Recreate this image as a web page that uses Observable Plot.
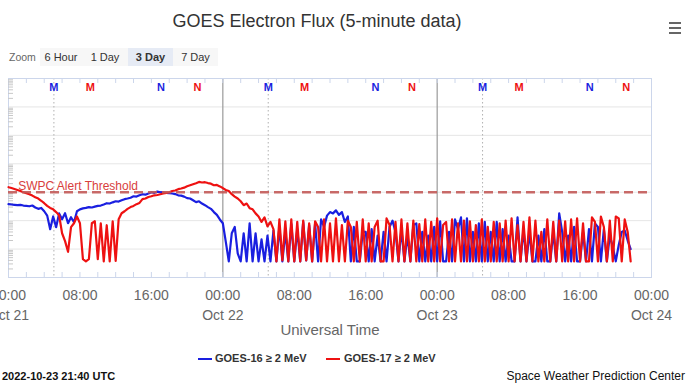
<!DOCTYPE html>
<html><head><meta charset="utf-8">
<script src="https://cdn.jsdelivr.net/npm/d3@7"></script>
<script src="https://cdn.jsdelivr.net/npm/@observablehq/plot@0.6"></script>
<style>
body{margin:0;background:#fff;font-family:"Liberation Sans",Arial,Helvetica,sans-serif;}
#wrap{position:relative;width:690px;height:388px;overflow:hidden;background:#fff;}
#chart{position:absolute;left:0;top:0;}
.abs{position:absolute;white-space:nowrap;}
#title{left:0;width:634px;top:10px;text-align:center;font-size:18px;line-height:22px;color:#333;}
#menu{left:669px;top:22px;width:12px;}
#menu div{height:2px;background:#666;margin-bottom:3px;}
#zoomlbl{left:9px;top:50px;font-size:10.5px;color:#666;line-height:14px;}
.btn{top:48px;height:18px;line-height:18px;text-align:center;font-size:11px;color:#333;background:#f7f7f7;}
.sel{background:#e6ebf5;font-weight:bold;}
#xlabel{left:230px;width:200px;top:321px;text-align:center;font-size:15px;line-height:18px;color:#666;}
.leg{top:351px;font-size:11px;font-weight:bold;line-height:14px;color:#333;}
.sw{position:absolute;top:358px;width:14px;height:2px;}
#stamp{left:2px;top:369px;font-size:11px;font-weight:bold;line-height:14px;color:#111;}
#swpc{right:5px;top:369px;font-size:12px;line-height:14px;color:#111;}
</style></head><body>
<div id="wrap">
  <div id="chart"></div>
  <div class="abs" id="title">GOES Electron Flux (5-minute data)</div>
  <div class="abs" id="menu"><div></div><div></div><div></div></div>
  <div class="abs" id="zoomlbl">Zoom</div>
  <div class="abs btn" style="left:40px;width:42px">6 Hour</div>
  <div class="abs btn" style="left:82px;width:46px">1 Day</div>
  <div class="abs btn sel" style="left:128px;width:45px">3 Day</div>
  <div class="abs btn" style="left:173px;width:45px">7 Day</div>
  <div class="abs" id="xlabel">Universal Time</div>
  <div class="sw" id="sw16" style="left:198px"></div>
  <div class="abs leg" style="left:215px">GOES-16 ≥ 2 MeV</div>
  <div class="sw" id="sw17" style="left:326px"></div>
  <div class="abs leg" style="left:344px">GOES-17 ≥ 2 MeV</div>
  <div class="abs" id="stamp">2022-10-23 21:40 UTC</div>
  <div class="abs" id="swpc">Space Weather Prediction Center</div>
</div>
<script>
// ---- data (pfu, 20-minute samples from 2022-10-21 00:00 UTC) ----
const seriesNames = ["GOES-16 ≥ 2 MeV", "GOES-17 ≥ 2 MeV"];
const seriesColors = ["#1a1fe0", "#ee1111"];
const startTime = "2022-10-21T00:00:00Z";
const stepMinutes = 20;
const goes16 = [
 380,370,360, 350,360,340, 330,320,340, 290,260,280, 214,150,50, 140,59,180,
 112,182,81, 132,88,214, 250,270,280, 300,290,310, 330,340,370, 410,400,440,
 480,470,520, 570,600,640, 720,700,780, 850,820,900, 1000,950,1050, 1000,980,950,
 920,900,860, 780,760,700, 620,600,520, 450,480,400, 350,300,260, 200,160,110,
 81,18,3.7, 36,60,7, 3.7,36,3.7, 81,3.7,36, 3.7,22,3.7, 30,3.7,45,
 3.7,60,3.7, 40,3.7,75, 3.7,50,3.7, 90,4,70, 3.7,80,3.7, 110,60,150,
 200,180,230, 160,200,90, 140,3.7,60, 3.7,3.7,40, 40,3.7,50, 3.7,30,3.7,
 40,3.7,60, 100,40,3.7, 50,3.7,30, 3.7,70,80, 3.7,40,3.7, 30,3.7,60,
 3.7,95,3.7, 3.7,40,3.7, 110,50,130, 3.7,120,3.7, 40,3.7,80, 3.7,90,3.7,
 40,3.7,90, 3.7,50,3.7, 30,3.7,3.7, 130,3.7,50, 3.7,40,3.7, 3.7,30,3.7,
 50,3.7,3.7, 40,3.7,180, 40,3.7,30, 3.7,60,3.7, 3.7,40,3.7, 50,3.7,80,
 60,3.7,50, 3.7,30,12, 3.7,14,40, 45,20,10
];
const goes17 = [
 1500,1400,1300, 1200,1100,1000, 920,850,760, 670,600,500, 410,330,280, 250,200,155,
 36,19,8, 59,81,140, 81,4.4,3.7, 4.4,81,95, 4.4,81,3.7, 69,3.7,95,
 3.8,112,182, 214,260,300, 330,380,420, 570,600,680, 720,780,800, 850,900,950,
 1000,1100,1150, 1280,1350,1450, 1620,1750,1900, 2070,2300,2200, 2250,2100,2000, 1760,1800,1600,
 1400,1200,1100, 850,700,600, 480,350,400, 275,250,180, 140,90,130, 63,90,50,
 3.7,112,4, 95,3.7,112, 3.7,90,3.7, 100,4,80, 3.7,95,60, 3.7,110,3.7,
 80,3.7,120, 3.7,70,3.7, 100,60,3.7, 90,3.7,110, 3.7,80,3.7, 60,100,3.7,
 3.7,120,70, 3.7,90,3.7, 110,3.7,80, 3.7,100,3.7, 75,3.7,110, 3.7,90,3.7,
 120,3.7,70, 90,3.7,110, 3.7,80,3.7, 100,3.7,95, 3.7,70,3.7, 110,3.7,60,
 3.7,90,3.7, 80,3.7,100, 3.7,120,3.7, 70,3.7,90, 3.7,130,3.7, 100,3.7,40,
 3.7,112,3.7, 90,3.7,100, 3.7,95,3.7, 110,3.7,120, 3.7,80,3.7, 3.7,130,90,
 3.7,140,60, 3.7,100,3.7, 140,120,3.7, 110,40,3.7
];
const alertThreshold = 1000;
const alertLabel = "SWPC Alert Threshold";
// local midnight (M) / noon (N) markers, UTC
const g16Midnight = ["2022-10-21T05:05Z","2022-10-22T05:05Z","2022-10-23T05:05Z"];
const g16Noon     = ["2022-10-21T17:05Z","2022-10-22T17:05Z","2022-10-23T17:05Z"];
const g17Midnight = ["2022-10-21T09:10Z","2022-10-22T09:10Z","2022-10-23T09:10Z"];
const g17Noon     = ["2022-10-21T21:10Z","2022-10-22T21:10Z","2022-10-23T21:10Z"];
const dayBoundaries = ["2022-10-22T00:00Z","2022-10-23T00:00Z"];
const xDomain = ["2022-10-21T00:00Z","2022-10-24T00:00Z"];
const yDomain = [1, 1e7];

// ---- build ----
const t0 = new Date(startTime).getTime();
const toRows = (arr, s) => arr.map((v, i) => ({t: new Date(t0 + i * stepMinutes * 60000), v, s}));
const rows16 = toRows(goes16, seriesNames[0]);
const rows17 = toRows(goes17, seriesNames[1]);
const D = s => new Date(s);
const x0 = D(xDomain[0]), x1 = D(xDomain[1]);
const decades = d3.range(1, 7).map(k => Math.pow(10, k));
const minorY = [];
for (let k = 0; k < 7; k++) for (let m = 2; m <= 9; m++) minorY.push(m * Math.pow(10, k));
const ticks2h = d3.utcHour.every(2).range(x0, new Date(+x1 + 1));
const markers = [
  ...g16Midnight.map(d => ({t: D(d), l: "M", c: seriesColors[0]})),
  ...g16Noon.map(d => ({t: D(d), l: "N", c: seriesColors[0]})),
  ...g17Midnight.map(d => ({t: D(d), l: "M", c: seriesColors[1]})),
  ...g17Noon.map(d => ({t: D(d), l: "N", c: seriesColors[1]}))
];
const fmt = d => {
  const hh = d3.utcFormat("%H:%M")(d);
  return d.getUTCHours() === 0 ? hh + "\n" + d3.utcFormat("%b %d")(d) : hh;
};
const H = 388, mt = 78, mb = 111, W = 690, ml = 8, mr = 39;
const ph = H - mt - mb, pw = W - ml - mr;

const chart = Plot.plot({
  width: W, height: H,
  marginTop: mt, marginBottom: mb, marginLeft: ml, marginRight: mr,
  style: {fontFamily: '"Liberation Sans", Arial, Helvetica, sans-serif', background: "transparent", overflow: "visible"},
  x: {type: "utc", domain: [x0, x1]},
  y: {type: "log", domain: yDomain},
  marks: [
    Plot.ruleY(decades, {stroke: "#e6e6e6", strokeWidth: 1}),
    Plot.ruleX(g16Midnight.map(D), {stroke: "#b0b0b0", strokeDasharray: "1.5,2.5"}),
    Plot.ruleX(dayBoundaries.map(D), {stroke: "#9a9a9a", strokeWidth: 1.2}),
    Plot.frame({stroke: "#ccd6eb"}),
    Plot.tickX(ticks2h, {x: d => d, stroke: "#ccd6eb", insetTop: ph - 5}),
    Plot.tickX(ticks2h, {x: d => d, stroke: "#ccd6eb", insetBottom: ph - 5}),
    Plot.tickY(minorY, {y: d => d, stroke: "#c8c8c8", insetRight: pw - 5}),
    Plot.axisY({ticks: decades, tickSize: 0, tickFormat: () => "", label: null}),
    Plot.axisX({ticks: d3.utcHour.every(8), tickSize: 0, tickPadding: 8, fontSize: 14,
      lineHeight: 1.43, tickFormat: fmt, label: null, color: "#666"}),
    Plot.line(rows16, {x: "t", y: "v", stroke: seriesColors[0], strokeWidth: 2.2, strokeLinejoin: "round"}),
    Plot.line(rows17, {x: "t", y: "v", stroke: seriesColors[1], strokeWidth: 2.2, strokeLinejoin: "round"}),
    Plot.ruleY([alertThreshold], {stroke: "#c25a58", strokeOpacity: 0.9, strokeWidth: 2.5, strokeDasharray: "9,5"}),
    Plot.text([alertLabel], {x: D("2022-10-21T01:05Z"), y: alertThreshold, text: d => d,
      textAnchor: "start", dy: -6, fontSize: 12, fill: "#d8403c"}),
    Plot.text(markers, {x: "t", text: "l", fill: "c", frameAnchor: "top", lineAnchor: "middle",
      dy: 9, fontSize: 11, fontWeight: "bold"})
  ]
});
document.getElementById("chart").appendChild(chart);
document.getElementById("sw16").style.background = seriesColors[0];
document.getElementById("sw17").style.background = seriesColors[1];
</script>
</body></html>
